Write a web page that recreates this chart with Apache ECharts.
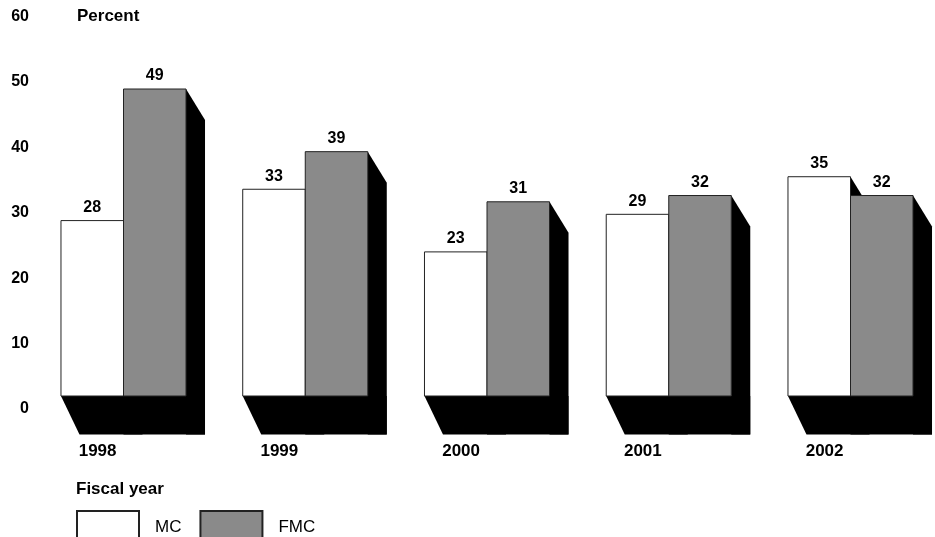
<!DOCTYPE html>
<html>
<head>
<meta charset="utf-8">
<script src="https://cdn.jsdelivr.net/npm/echarts@6/dist/echarts.min.js"></script>
<style>
html,body{margin:0;padding:0;background:#fff;}
#chart{width:935px;height:537px;}
</style>
</head>
<body>
<div id="chart"></div>
<script>
// ---- data ----
const years = ['1998', '1999', '2000', '2001', '2002'];
const mcValues = [28, 33, 23, 29, 35];
const fmcValues = [49, 39, 31, 32, 32];
const yTickValues = [0, 10, 20, 30, 40, 50, 60];
const seriesNames = ['MC', 'FMC'];

// ---- styles ----
const FONT = '"Liberation Sans", Arial, Helvetica, sans-serif';
const GRAY = '#8a8a8a';
const EDGE = '#222';
const BAR_RATIO = 0.344;   // each bar's share of the category step
const SIDE_DX = 19, SIDE_DY = 31;     // right-hand depth face
const FLOOR_DX = 18.5, FLOOR_DY = 38.5; // floor shadow

function makeRender(isLeft, fill) {
  return function (params, api) {
    const i = api.value(0);
    const v = api.value(1);
    const base = api.coord([i, 0]);
    const top = api.coord([i, v]);
    const step = api.coord([1, 0])[0] - api.coord([0, 0])[0];
    const cx = base[0], y0 = base[1], yt = top[1];
    const bw = step * BAR_RATIO;
    const L = isLeft ? cx - bw : cx;
    const R = isLeft ? cx : cx + bw;
    const children = [];
    if (isLeft) {
      const fl = cx - bw, fr = cx + bw;
      children.push({
        type: 'polygon',
        shape: { points: [[fl, y0], [fl + FLOOR_DX, y0 + FLOOR_DY], [fr + SIDE_DX, y0 + FLOOR_DY], [fr + SIDE_DX, y0], [fl, y0]] },
        style: { fill: '#000' }
      });
    }
    children.push({
      type: 'polygon',
      shape: { points: [[R, yt], [R + SIDE_DX, yt + SIDE_DY], [R + SIDE_DX, y0 + FLOOR_DY], [R, y0 + FLOOR_DY]] },
      style: { fill: '#000' }
    });
    children.push({
      type: 'rect',
      shape: { x: L, y: yt, width: R - L, height: y0 - yt },
      style: { fill: fill, stroke: EDGE, lineWidth: 1 }
    });
    children.push({
      type: 'text',
      style: {
        text: String(v), x: (L + R) / 2, y: yt - 13,
        align: 'center', verticalAlign: 'middle',
        font: 'bold 16px ' + FONT, fill: '#000'
      }
    });
    return { type: 'group', children: children };
  };
}

const chart = echarts.init(document.getElementById('chart'));
chart.setOption({
  backgroundColor: '#fff',
  animation: false,
  title: {
    text: 'Fiscal year', left: 76, top: 481, padding: 0,
    textStyle: { fontFamily: FONT, fontWeight: 'bold', fontSize: 17, color: '#000' }
  },
  legend: {
    data: seriesNames,
    left: 76, top: 510, padding: 0,
    icon: 'rect', itemWidth: 62, itemHeight: 32, itemGap: 18,
    textStyle: { fontFamily: FONT, fontSize: 17, color: '#000', padding: [0, 0, 0, 11] }
  },
  grid: [
    { left: 123.5, right: 84.5, top: 20.1, bottom: 141 },
    { left: 36, width: 10, top: 16.6, bottom: 128 }
  ],
  xAxis: [
    {
      type: 'category', data: years, gridIndex: 0, boundaryGap: false,
      axisLine: { show: false }, axisTick: { show: false },
      axisLabel: {
        margin: 47, align: 'right', padding: [0, 7, 0, 0],
        fontFamily: FONT, fontWeight: 'bold', fontSize: 17, color: '#000'
      }
    },
    { type: 'category', data: years, gridIndex: 1, show: false }
  ],
  yAxis: [
    { type: 'value', gridIndex: 0, min: 0, max: 60, show: false },
    {
      type: 'value', gridIndex: 1, min: yTickValues[0], max: yTickValues[yTickValues.length - 1], interval: 10,
      name: 'Percent', nameLocation: 'end', nameGap: 0,
      nameTextStyle: {
        fontFamily: FONT, fontWeight: 'bold', fontSize: 17, color: '#000',
        align: 'left', verticalAlign: 'middle', padding: [0, 0, 0, 41]
      },
      axisLine: { show: false }, axisTick: { show: false }, splitLine: { show: false },
      axisLabel: { margin: 7, fontFamily: FONT, fontWeight: 'bold', fontSize: 16, color: '#000' }
    }
  ],
  series: [
    {
      name: seriesNames[0], type: 'custom', xAxisIndex: 0, yAxisIndex: 0,
      itemStyle: { color: '#fff', borderColor: EDGE, borderWidth: 1 },
      renderItem: makeRender(true, '#fff'),
      encode: { x: 0, y: 1 },
      data: mcValues.map((v, i) => [i, v])
    },
    {
      name: seriesNames[1], type: 'custom', xAxisIndex: 0, yAxisIndex: 0,
      itemStyle: { color: GRAY, borderColor: EDGE, borderWidth: 1 },
      renderItem: makeRender(false, GRAY),
      encode: { x: 0, y: 1 },
      data: fmcValues.map((v, i) => [i, v])
    }
  ]
});
</script>
</body>
</html>
